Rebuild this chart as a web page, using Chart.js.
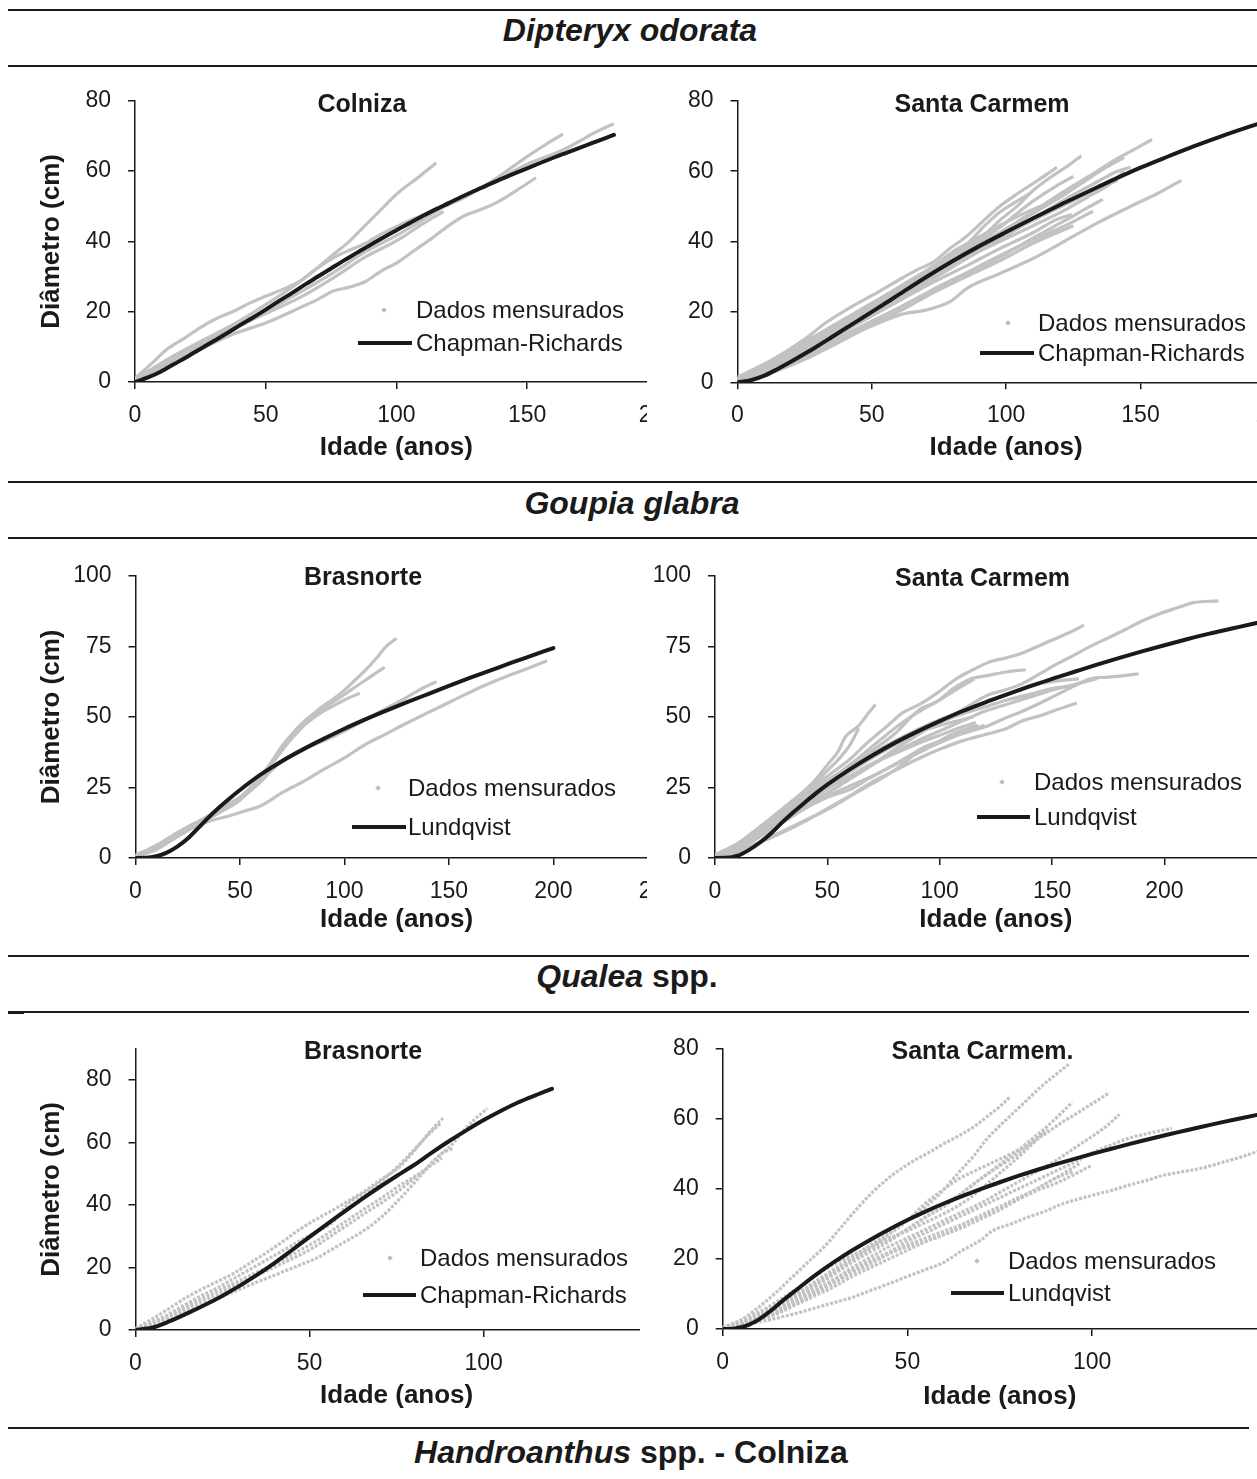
<!DOCTYPE html>
<html>
<head>
<meta charset="utf-8">
<script src="https://cdn.jsdelivr.net/npm/chart.js@4.4.1/dist/chart.umd.min.js"></script>
<style>
html,body{margin:0;padding:0;background:#fff;}
body{width:1257px;height:1479px;position:relative;overflow:hidden;font-family:'Liberation Sans',Arial,Helvetica,sans-serif;color:#1a1a1a;}
.rule{position:absolute;height:2px;background:#1a1a1a;}
.sec{position:absolute;transform:translate(-50%,-50%);font-weight:bold;font-size:32px;line-height:1;white-space:nowrap;}
.ptitle{position:absolute;transform:translate(-50%,-50%);font-weight:bold;font-size:25px;line-height:1;white-space:nowrap;}
.panel{position:absolute;overflow:hidden;}
.panel canvas{position:absolute;left:0;top:0;}
.leg{position:absolute;transform:translateY(-50%);font-size:24px;line-height:1;white-space:nowrap;}
.legline{position:absolute;height:4px;background:#1a1a1a;transform:translateY(-50%);}
.legdot{position:absolute;width:4px;height:4px;background:#bdbdbd;transform:translate(-50%,-50%) rotate(45deg);}
</style>
</head>
<body>
<div class="rule" style="left:8px;top:9px;width:1249px"></div>
<div class="sec" style="left:630px;top:30px"><i>Dipteryx odorata</i></div>
<div class="rule" style="left:8px;top:65px;width:1249px"></div>

<div class="rule" style="left:8px;top:481px;width:1249px"></div>
<div class="sec" style="left:632px;top:503px"><i>Goupia glabra</i></div>
<div class="rule" style="left:8px;top:537px;width:1249px"></div>

<div class="rule" style="left:8px;top:955px;width:1241px"></div>
<div class="sec" style="left:627px;top:976px"><i>Qualea</i> spp.</div>
<div class="rule" style="left:8px;top:1011px;width:1241px"></div>
<div class="rule" style="left:8px;top:1011px;width:16px;height:3px"></div>

<div class="rule" style="left:8px;top:1427px;width:1241px"></div>
<div class="sec" style="left:631px;top:1452px"><i>Handroanthus</i> spp. - Colniza</div>

<script>
// ---------------- DATA (age in years, diameter in cm) ----------------
const dipColnizaFit = [[0,0],[5,1.3],[10,3],[15,5.1],[20,7.2],[25,9.4],[30,11.6],[35,13.8],[40,16.1],[45,18.3],[50,20.6],[55,23],[60,25.3],[65,27.7],[70,30],[75,32.3],[80,34.6],[85,36.8],[90,39],[95,41.1],[100,43.2],[105,45.2],[110,47.2],[115,49.1],[120,50.9],[125,52.7],[130,54.4],[135,56.1],[140,57.7],[145,59.3],[150,60.8],[155,62.3],[160,63.8],[165,65.2],[170,66.6],[175,68],[180,69.4],[183.2,70.3]];
const dipColnizaObs = [
 [[0,1],[6,3.5],[12.6,6.5],[25,11.5],[38,16.5],[50,22],[60.5,27.2],[68,31.4],[75.6,36.1],[82,40],[88,44.5],[94,49],[100.8,53.9],[108,58],[115.2,62.3]],
 [[0,1],[6,5],[12.6,9.5],[19,12.5],[25,15.5],[31,18],[38,20.2],[44,22.5],[50,24.4],[57,26.5],[63,28.6],[69,32],[75.6,35.2],[82,37.5],[88,39.4],[94,42],[100.8,44.5],[107,46.5],[113,48.3],[120,50.5],[126,52.5],[132,55],[138.5,58.1],[145,61.5],[151,64.6],[157,67.5],[163.7,70.5]],
 [[0,0.5],[6,2.5],[12.6,5],[25,10],[38,15],[50,20],[63,25.5],[75.6,31],[88,37],[100.8,42],[113,47.5],[126,53],[138.5,57.5],[151,62.3],[157,64],[163.7,66],[170,68.5],[176,71],[183.2,73.5]],
 [[0,0.5],[6,2.5],[12.6,5.2],[25.2,9.4],[37.8,13.7],[50.4,16.9],[63,21.1],[70,23.5],[75.6,25.8],[82,27],[88.2,28.6],[94,31.5],[100.8,34.2],[107,37.5],[113.4,40.8],[120,44.5],[126,47.3],[132,49],[138.5,51.1],[146,54.5],[153.4,58.1]],
 [[0,0.8],[6,3],[12.6,6],[25,10.8],[38,15.5],[50,19.5],[63,24],[75.6,29.5],[88,35.5],[100.8,40.5],[110,45],[118,48.5]]
];

const dipSantaFit = [[0,0],[5,0.6],[10,1.9],[15,3.8],[20,5.9],[25,8.1],[30,10.4],[35,12.8],[40,15.2],[45,17.6],[50,20],[60,24.9],[70,29.8],[80,34.4],[90,38.7],[100,42.7],[110,46.6],[120,50.4],[130,54],[140,57.6],[150,61],[160,64.1],[170,67.1],[180,69.9],[190,72.5],[200,75]];
const dipSantaObs = [
 [[0,1],[12,4.5],[24,9.5],[36.6,15],[49,20.5],[61,26],[73,31.5],[85,37],[97.6,42.5],[110,48.5],[122,54.5],[134,60],[140,63],[146,65.5],[154.3,69]],
 [[0,1],[12,4.5],[24,10],[36.6,16],[49,21.5],[61,27],[73,33],[85,38.5],[92,42],[97.6,46],[104,50],[110,54.5],[116,58],[122,61],[128,64.4]],
 [[0,1.5],[12,6],[24.4,11.9],[33,17],[42.7,21.6],[52,25.5],[61,29.5],[67,32],[73,34.2],[79,38],[85.4,41.6],[91,45.5],[97.6,50],[104,53.5],[110,56.5],[115,59],[118.9,61.1]],
 [[0,0.5],[12,3.5],[24,8],[36.6,13],[49,18.5],[61,24],[73,29.5],[85,35],[97.6,40.5],[110,46.5],[122,52],[134,57],[140,59.5],[146.3,61.1]],
 [[0,0.3],[12.2,2.6],[24.4,6.3],[36.6,10.9],[48.8,15.6],[61,19.3],[70,20.5],[79.3,23],[85.4,26.7],[97.6,30.9],[109.8,35.1],[122,40.2],[134,45.3],[146.3,50],[156,53.5],[165.2,57.4]],
 [[0,0.5],[12,3],[24,7],[36.6,11.5],[49,16.5],[61,21.5],[73,26.5],[85,31],[97.6,36],[110,40.5],[122,44.5],[132.3,48.6]],
 [[0,0.8],[12,4],[24,8.5],[36.6,13.5],[49,18.5],[61,23.5],[73,28.5],[85,33],[97.6,38],[110,42.5],[118,46],[124.4,47.7]],
 [[0,1],[12,5],[24,10.5],[36.6,16.5],[49,22],[61,27.5],[73,33],[85,39],[92,44.5],[97,48],[103,51],[109,53.7]],
 [[0,0.5],[12,3.5],[24,8.5],[36.6,13.5],[49,19],[61,24.5],[73,30],[85,35.5],[97.6,41],[110,46],[122,50.5],[134,55],[141.5,57.4]],
 [[0,1],[12,4.5],[24,9.5],[36.6,15],[49,20.5],[61,26],[73,31.5],[85,37],[97.6,42.5],[110,48],[122,53.5],[130,57.5],[137,61],[143.9,63.9]],
 [[0,0.5],[12,3],[24,7],[36.6,11.5],[49,16],[61,20.5],[73,25.5],[85,30],[97.6,34.5],[110,39.5],[125,44.5]],
 [[0,0.8],[12,4.2],[24,9],[36.6,14],[49,19.5],[61,25],[73,30.5],[85,35.5],[97.6,40],[110,44.5],[122,49],[130,52.5],[138,56],[144,60]],
 [[0,1.2],[12,5.5],[24,11],[36.6,16.5],[49,22],[61,27],[73,32],[85,37.5],[97.6,44],[104,48],[110,51.5],[118,55.5],[125,58.5]],
 [[0,0.5],[12,3.2],[24,7.5],[36.6,12.2],[49,17],[61,21.5],[73,26],[85,30.5],[97.6,35.5],[110,41],[122,46],[130,49.5],[136,52]],
 [[0,1],[12,4.8],[24,10],[36.6,15.5],[49,21],[61,27],[73,33],[80,37],[88,40.5],[97.6,44.5],[108,48.5],[116,51]]
];

const goupBrasFit = [[0,0],[5,0.05],[10,0.6],[15,1.9],[20,4],[25,6.9],[30,10.6],[35,14.4],[40,17.9],[45,21.1],[50,24.1],[60,29.6],[70,34.3],[80,38.4],[90,42.2],[100,45.8],[110,49.1],[120,52.2],[130,55.2],[140,58.1],[150,61],[160,63.8],[170,66.5],[180,69.2],[190,71.8],[200,74.4]];
const goupBrasObs = [
 [[0,1],[5,2.5],[10,4.5],[15,6.5],[20,8.5],[25,10.5],[30,12.5],[35,15],[40,17.5],[45,19.5],[50,21.5],[55,25],[60,29],[65,34],[70,39.5],[75,44],[80,48],[85,51],[90,54],[95,56.5],[100,59.5],[105,63],[110,66.5],[115,70.5],[120,75],[125,77.9]],
 [[0,1],[10,4.5],[20,9],[30,13],[40,17],[50,21],[55,24.5],[60,28.5],[65,33.5],[70,39],[75,43.5],[80,47],[85,50],[90,53],[95,55.5],[100,58],[105,60.5],[110,63],[115,65.5],[119.3,67.6]],
 [[0,0.5],[10,4],[20,8],[30,12],[40,16],[50,20.5],[55,24],[60,28],[65,33],[70,38],[75,42.5],[80,46.5],[85,49.5],[90,52],[95,54],[100,56],[107.3,58.4]],
 [[0,0.5],[10,3],[20,7.5],[30,12],[40,16.5],[50,21],[60,27],[65,31],[70,34],[80,38.5],[90,41.5],[100,45],[110,49],[120,53],[130,57],[137,60],[144,62.5]],
 [[0,0.5],[10,3.5],[20,8],[30,11.5],[36,13.2],[45,15],[52,16.6],[60,18.5],[71,23.5],[80,27],[90.3,31.5],[100,35.5],[109.7,40.1],[120,44],[129,47.5],[140,51.5],[148,54.4],[158,58],[167.6,61.3],[178,64.5],[187,67],[197,69.9]]
];

const goupSantaFit = [[0,0],[5,0.05],[10,0.8],[15,2.8],[20,5.5],[25,8.8],[30,12.7],[35,16.3],[40,19.7],[45,23],[50,26],[60,31.4],[70,36.3],[80,40.8],[90,44.8],[100,48.5],[110,52],[120,55.1],[130,58],[140,60.8],[150,63.5],[160,66],[170,68.5],[180,70.9],[190,73.2],[200,75.4],[210,77.5],[220,79.5],[230,81.3],[240,83.1],[250,84.8]];
const goupSantaObs = [
 [[0,0.5],[10,3.5],[20,8],[30,13],[40,18],[50,23],[60,28],[70,33],[80,38.5],[90,43.5],[100,48.5],[110,52.5],[121.6,57.8],[129,59.5],[136.8,61.8],[145,65.5],[152,68.7],[160,72],[167,75],[175,78],[182,80.7],[190,84],[197.6,86.5],[205,88.5],[213,90.5],[224,91.1]],
 [[0,0.5],[10,5],[20,11],[30,17],[40,23],[50,29],[60,35],[68,41],[76,46.3],[83.6,51.5],[91,54.4],[99,58.5],[106.4,63],[114,66.4],[121.6,69.3],[130,71],[137,72.7],[145,75.5],[152,77.9],[158,80],[164.2,82.5]],
 [[0,0.5],[10,4],[20,9],[30,15],[40,20.5],[50,26],[60,32],[70,38],[80,44],[91,52.6],[99,55.5],[106,60],[114,63.5],[121.6,64.7],[130,66],[138.3,66.7]],
 [[0,1],[10,5],[20,11],[30,17.5],[40,24],[45,28],[50,33],[55,38],[58,42.9],[64,46.9],[67,50],[71.4,54.4]],
 [[0,1],[10,5],[20,11],[30,17],[40,23],[50,31],[55,35],[60,40],[64,46]],
 [[0,0.5],[10,3],[20,7.5],[30,12.5],[40,17.5],[50,21.5],[60.8,24.5],[68,28],[76,31.4],[84,35],[91,38.3],[99,40.5],[106,42.9],[114,45],[121.6,46.9],[129,49.5],[137,52.1],[145,55],[152,57.8],[160,61],[167,63.5],[175,64.1],[182,64.6],[188.5,65.3]],
 [[0,0.5],[10,3.5],[20,8],[30,13],[40,18],[50,23],[60,28],[70,33],[80,37.5],[90,41.5],[100,45],[110,48.5],[120,52],[130,54.5],[140,57],[150,59.5],[160,61.5],[170,63.5]],
 [[0,0.3],[10,2.5],[20,5.5],[30,9],[40,13],[50,17.5],[60,22],[70,27],[80,31],[90,35],[100,38.5],[110,41.5],[121.6,44],[130,46],[136.8,48.6],[145,50.5],[152,52.5],[161,54.9]],
 [[0,0.3],[10,2],[15,3.9],[22,6.5],[30.4,9.6],[38,12.5],[45.6,15.4],[53,18.5],[60.8,22.2],[68,25.5],[76,29.1],[84,33.5],[91,38.3],[100,41.5],[106,44],[114,46.3],[117,47]],
 [[0,0.5],[10,4],[20,9],[30,14],[40,19],[50,24.5],[60,29],[70,33.5],[80,37],[90,40.5],[100,43.5],[110,46.5],[116,48]],
 [[0,1],[10,5],[20,10.5],[30,16],[40,21.5],[50,27],[60,33],[70,39.5],[80,46],[90,51.5],[100,56],[108,60],[115.5,63.5]],
 [[0,0.5],[10,4],[20,9],[30,14.5],[40,20],[50,25],[60,30.5],[70,35.5],[80,40],[90,44],[100,48],[110,51],[120,53.5],[130,56],[140,58],[150,60],[160,61]],
 [[0,1],[10,5],[20,10],[30,15.5],[40,21],[50,26.5],[60,32],[70,37],[80,41.5],[90,45.5],[100,49],[110,52],[120,55],[130,58],[140,61],[150,62.5],[162,63.5]],
 [[0,0.5],[10,3.5],[20,8.5],[30,13.5],[40,18.5],[50,22],[60,25.5],[70,29],[80,33],[90,37],[100,41],[110,44.5],[120,47]],
 [[0,0.8],[10,4.5],[20,10],[30,16],[40,22],[50,27.5],[60,32.5],[70,37],[80,41],[90,44.5],[100,47],[110,49],[115,50]]
];

const qualBrasFit = [[0,0],[5,0.8],[10,2.9],[15,5.4],[20,8.1],[25,11],[30,14.2],[35,17.7],[40,21.5],[45,25.6],[50,29.8],[55,33.9],[60,37.9],[65,41.9],[70,45.7],[75,49.3],[80,52.8],[85,56.7],[90,60.4],[95,63.9],[100,67.2],[105,70.2],[110,72.9],[115,75.2],[119.6,77.2]];
const qualBrasObs = [
 [[0,0.5],[4,3],[9.4,6.7],[14,10],[18.9,13],[23.5,15.5],[28.3,18.2],[33,21.5],[37.8,24.9],[42.5,28.5],[47.2,32.2],[52,35.5],[56.7,38.4],[61.4,41.5],[66.1,44.7],[71,48.5],[75.5,51.9],[79,56],[82,60],[85,64],[88.3,67.8]],
 [[0,0.5],[4,2],[9.4,5],[14,8],[18.9,11],[23.5,13.5],[28.3,16.5],[33,19.5],[37.8,22.5],[42.5,25.5],[47.2,28.5],[52,31.5],[56.7,34.5],[61.2,40.5],[66,44],[71,48],[75.5,52.5],[79,56.5],[82,60],[85,63.5],[87.5,66]],
 [[0,0.3],[4,1.5],[9.4,3.8],[14,6.5],[18.9,9],[23.5,11.5],[28.3,14],[33,16.5],[37.8,19],[42.5,21.5],[47.2,24],[52,27],[56.7,30.5],[61.4,34],[66.1,37.5],[71,41],[75.5,44.5],[80,48.5],[82.5,50.5],[85,53.5],[88,56.5],[91,59.5],[94.3,63.9],[97.5,67.5],[101,70.9]],
 [[0,0.3],[4,1.3],[9.4,3.2],[14,5.5],[18.9,7.8],[23.5,10],[28.3,12.3],[33,14.5],[37.8,16.6],[42.5,18.7],[47.2,20.8],[52,23],[56.7,26],[61.4,29],[66.1,32.2],[71,36.5],[75.5,41.5],[80,47],[84.8,53],[88,56.5],[91,58]],
 [[0,0.5],[4,2],[9.4,4.5],[14,7.2],[18.9,10],[23.5,12.5],[28.3,15],[33,17.5],[37.8,20],[42.5,22.5],[47.2,25.5],[52,28.5],[56.7,32],[61.4,35.5],[66.1,39],[71,42.5],[75.5,46],[80,49],[84,52],[88,55]]
];

const qualSantaFit = [[0,0],[3,0.1],[5,0.5],[7,1.2],[9,2.2],[11,3.6],[13,5.2],[15,7],[20,11.2],[25,15.3],[30,19],[35,22.4],[40,25.5],[45,28.4],[50,31.1],[55,33.6],[60,35.9],[65,38],[70,40],[75,41.9],[80,43.7],[85,45.4],[90,47],[95,48.5],[100,50],[105,51.4],[110,52.8],[115,54.1],[120,55.4],[125,56.6],[130,57.8],[135,59],[140,60.1],[145,61.2],[150,62.3]];
const qualSantaObs = [
 [[0,0.3],[4,2],[9.5,6],[14,10],[18.5,14.5],[23,19],[27.5,23.5],[32,29],[36.9,35],[41,39.5],[46,44],[51.7,48],[56,50.5],[60,53],[64.5,55.5],[68.6,58.2],[72,61],[75,63.5],[78,66.5]],
 [[0,0.3],[5,1.8],[10,4.2],[15,7],[20,10],[25,13.5],[30,17],[35,20.5],[40,24],[45,27.5],[50,31],[54,34],[58.5,38.3],[64,44.8],[68,49.5],[71.3,54],[75,58],[78,61],[82,65],[86,69],[90,72.5],[94,75.9]],
 [[0,0.3],[5,1.5],[10,3.5],[15,6],[20,9],[25,12.5],[30,16],[35,19.5],[40,23],[45,27],[50,31],[55,36],[60,40],[64,42.9],[68,45],[73,47.5],[78,50],[82,52.2],[87,55.5],[91.4,58.7],[95,61],[98,63],[101,65],[104.7,67.5]],
 [[0,0.3],[5,1.5],[10,3.5],[15,6],[20,9],[25,12],[30,15.5],[35,19],[40,22],[45,25],[50,28.5],[55,32],[60,35],[65,39],[70,43],[75,47],[80,51],[84,54.5],[88,58],[91,61],[94.6,64.7]],
 [[0,0.3],[5,1.3],[10,3],[15,5.5],[20,8],[25,11],[30,14],[35,17.5],[40,20.5],[45,23.5],[50,26],[55,28.5],[60,31],[65,33.5],[70,36],[75,39],[80,42],[85,45],[90,48],[95,51.5],[100,55],[104,58],[107.4,61.3]],
 [[0,0.4],[5,2],[10,4],[15,7],[20,10],[25,13],[30,16.5],[35,20],[40,23],[45,25.5],[50,28.5],[55,32],[60,35.5],[65,39],[70,43],[75,46.5],[80,50],[84,53.5],[87.3,56.4]],
 [[0,0.3],[5,1.3],[10,3],[15,5.5],[20,8],[25,11],[30,14],[35,17],[40,19.5],[45,22],[50,25],[55,27.5],[60,30],[65,32.5],[70,35],[75,37.5],[80,40],[85,42.5],[90,45],[95,47.5],[100,50.3],[105,52.5],[110,54.5],[115,55.8],[121.6,57.3]],
 [[0,0.3],[5,1],[10,2.5],[15,4.5],[20,7],[25,9.5],[30,12],[35,15],[40,17.5],[45,20],[50,22.5],[55,25],[60,27],[65,29.5],[70,32],[75,34.5],[80,37],[85,39.5],[90,41.5],[95,44],[99.6,46.6]],
 [[0,0.4],[5,1.5],[10,3],[15,5],[20,7.5],[25,10],[30,13],[35,16],[40,18.5],[45,21.5],[50,24],[55,26],[60,28],[65,30],[70,32.5],[75,35],[80,37.5],[85,40],[90,43],[97,47.5]],
 [[0,0.2],[5,1],[10,2],[15,3.2],[20,4.5],[25,6],[30,7.5],[35,9],[40,11],[45.7,13.2],[50,15],[55,17],[59.4,18.8],[65,22.5],[70,25.5],[73,28],[78,30],[82.3,31.8],[87,33.5],[91.4,35.5],[96,37],[100.5,38.3],[105,39.5],[109.7,41],[115,42.5],[119,43.8],[125,45],[130,46],[135,47.5],[140,49],[145,50.8]],
 [[0,0.3],[5,1.2],[10,2.8],[15,5],[20,7.5],[25,10.5],[30,13.5],[35,16.5],[40,19],[45,21.5],[50,23.5],[55,25],[60,27],[65,29],[70,31.5],[75,34],[80,37],[85,40],[90,43],[95,45]],
 [[0,0.5],[5,2.5],[10,5],[15,8],[20,11.5],[25,15],[30,18.5],[35,21],[40,23.5],[45,26],[50,28],[55,30.5],[60,33],[65,36],[70,40],[75,44.5],[80,49],[84,53],[88,57]]
];

// axis ranges: [min, max, step]
const dipX = [0, 200, 50], dipY = [0, 80, 20];
const goupX = [0, 250, 50], goupY = [0, 100, 25];
const qualBrasX = [0, 150, 50], qualBrasY = [0, 90, 20];
const qualSantaX = [0, 150, 50], qualSantaY = [0, 80, 20];

const xTitle = 'Idade (anos)';
const yTitle = 'Diâmetro (cm)';
const obsLabel = 'Dados mensurados';

// ---------------- LAYOUT ----------------
const GRAY = '#c2c2c2';
const INK = '#1a1a1a';
Chart.defaults.font.family = "'Liberation Sans', Arial, Helvetica, sans-serif";
Chart.defaults.color = INK;

const panels = [
 {left:0,   top:70,   width:690, height:400, clip:647,  axisX:135,   axisRight:664.3,  axisTop:96.7,  axisBottom:382,   titleY:448,    xr:dipX, yr:dipY, yTitle:true,  obs:dipColnizaObs, fit:dipColnizaFit, fitLabel:'Chapman-Richards', dotted:false,
  name:'Colniza', nameX:362, nameY:103, leg:{dotX:384, dotY:310, textX:416, lineX1:358, lineX2:412, lineY:343}},
 {left:645, top:70,   width:662, height:400, clip:612,  axisX:737.5, axisRight:1281.5, axisTop:96,    axisBottom:382.3, titleY:448,    xr:dipX, yr:dipY, yTitle:false, obs:dipSantaObs, fit:dipSantaFit, fitLabel:'Chapman-Richards', dotted:false,
  name:'Santa Carmem', nameX:982, nameY:103, leg:{dotX:1008, dotY:323, textX:1038, lineX1:980, lineX2:1034, lineY:352.5}},
 {left:0,   top:545,  width:690, height:395, clip:647,  axisX:135.5, axisRight:663.6,  axisTop:567.3, axisBottom:858,   titleY:920,    xr:goupX, yr:goupY, yTitle:true,  obs:goupBrasObs, fit:goupBrasFit, fitLabel:'Lundqvist', dotted:false,
  name:'Brasnorte', nameX:363, nameY:576, leg:{dotX:378, dotY:788, textX:408, lineX1:352, lineX2:406, lineY:826.5}},
 {left:645, top:545,  width:664, height:395, clip:612,  axisX:715,   axisRight:1283.1, axisTop:567.3, axisBottom:858,   titleY:920,    xr:goupX, yr:goupY, yTitle:false, obs:goupSantaObs, fit:goupSantaFit, fitLabel:'Lundqvist', dotted:false,
  name:'Santa Carmem', nameX:982.5, nameY:576.5, leg:{dotX:1002, dotY:782, textX:1034, lineX1:977, lineX2:1030, lineY:816.5}},
 {left:0,   top:1018, width:690, height:397, clip:640,  axisX:135.5, axisRight:665.2,  axisTop:1041.1,axisBottom:1330,  titleY:1395.5, xr:qualBrasX, yr:qualBrasY, yTitle:true,  obs:qualBrasObs, fit:qualBrasFit, fitLabel:'Chapman-Richards', dotted:true,
  name:'Brasnorte', nameX:363, nameY:1050, leg:{dotX:390, dotY:1258, textX:420, lineX1:363, lineX2:416, lineY:1295}},
 {left:645, top:1018, width:664, height:397, clip:612,  axisX:722.7, axisRight:1283.4, axisTop:1041.7,axisBottom:1329,  titleY:1396.5, xr:qualSantaX, yr:qualSantaY, yTitle:false, obs:qualSantaObs, fit:qualSantaFit, fitLabel:'Lundqvist', dotted:true,
  name:'Santa Carmem.', nameX:982.5, nameY:1050, leg:{dotX:977, dotY:1261, textX:1008, lineX1:951, lineX2:1004, lineY:1293.3}}
];

const toXY = arr => arr.map(p => ({x:p[0], y:p[1]}));

function addEl(cls, styles, text) {
  const d = document.createElement('div');
  d.className = cls;
  Object.assign(d.style, styles);
  if (text !== undefined) d.textContent = text;
  document.body.appendChild(d);
  return d;
}

panels.forEach(cfg => {
  const wrap = document.createElement('div');
  wrap.className = 'panel';
  wrap.style.left = cfg.left + 'px';
  wrap.style.top = cfg.top + 'px';
  wrap.style.width = cfg.clip + 'px';
  wrap.style.height = cfg.height + 'px';
  const cv = document.createElement('canvas');
  cv.width = cfg.width; cv.height = cfg.height;
  cv.style.width = cfg.width + 'px'; cv.style.height = cfg.height + 'px';
  wrap.appendChild(cv);
  document.body.appendChild(wrap);

  const datasets = [{
    label: cfg.fitLabel, data: toXY(cfg.fit), showLine: true,
    borderColor: INK, backgroundColor: INK, borderWidth: 4, pointRadius: 0,
    cubicInterpolationMode: 'monotone', order: 0, borderCapStyle: 'round'
  }];
  cfg.obs.forEach(tree => datasets.push({
    label: obsLabel, data: toXY(tree), showLine: true,
    borderColor: GRAY, backgroundColor: GRAY, borderWidth: 3.2, pointRadius: 0,
    borderDash: cfg.dotted ? [3, 1.6] : [], cubicInterpolationMode: 'monotone', order: 1
  }));

  const bottomEdge = cfg.top + cfg.height;
  const axisCommon = {
    grid: {drawOnChartArea: false, drawTicks: true, tickLength: 7, color: INK, lineWidth: 1.5},
    border: {display: true, color: INK, width: 1.5}
  };
  new Chart(cv, {
    type: 'scatter',
    data: {datasets},
    options: {
      responsive: false, animation: false, devicePixelRatio: 1,
      layout: {padding: {left: 0, top: cfg.axisTop - cfg.top, right: cfg.left + cfg.width - cfg.axisRight, bottom: 0}},
      plugins: {legend: {display: false}, tooltip: {enabled: false}, title: {display: false}},
      scales: {
        x: Object.assign({
          type: 'linear', position: 'bottom', min: cfg.xr[0], max: cfg.xr[1],
          afterFit: s => { s.height = bottomEdge - cfg.axisBottom; },
          ticks: {stepSize: cfg.xr[2], padding: 13, color: INK, font: {size: 23}, maxRotation: 0, autoSkip: false, includeBounds: false},
          title: {display: true, text: xTitle, color: INK, font: {size: 26, weight: 'bold'}, padding: {top: 0, bottom: (bottomEdge - cfg.titleY) - 15.6}}
        }, axisCommon),
        y: Object.assign({
          type: 'linear', position: 'left', min: cfg.yr[0], max: cfg.yr[1],
          afterFit: s => { s.width = cfg.axisX - cfg.left; },
          ticks: {stepSize: cfg.yr[2], padding: 17, color: INK, font: {size: 23}, includeBounds: false},
          title: {display: cfg.yTitle, text: yTitle, color: INK, font: {size: 26, weight: 'bold'}, padding: {top: 36.4, bottom: 0}}
        }, axisCommon)
      }
    }
  });

  addEl('ptitle', {left: cfg.nameX + 'px', top: cfg.nameY + 'px'}, cfg.name);
  const L = cfg.leg;
  addEl('legdot', {left: L.dotX + 'px', top: L.dotY + 'px'});
  addEl('leg', {left: L.textX + 'px', top: L.dotY + 'px'}, obsLabel);
  addEl('legline', {left: L.lineX1 + 'px', top: L.lineY + 'px', width: (L.lineX2 - L.lineX1) + 'px'});
  addEl('leg', {left: L.textX + 'px', top: L.lineY + 'px'}, cfg.fitLabel);
});
</script>
</body>
</html>
